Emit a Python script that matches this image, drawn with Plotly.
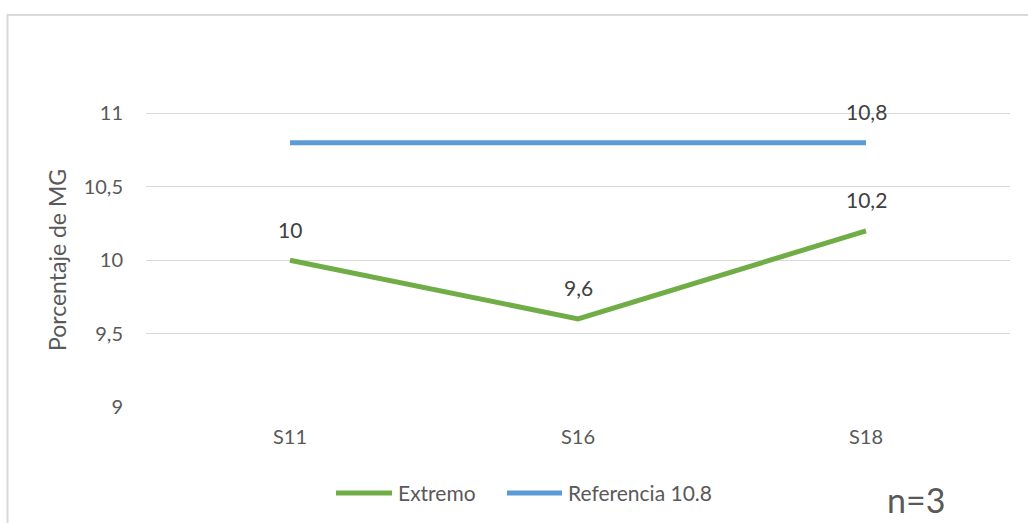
import plotly.graph_objects as go

# Data
muestras = ["S11", "S16", "S18"]
extremo = [10.0, 9.6, 10.2]
referencia = [10.8, 10.8, 10.8]
ref_label_idx = [2]  # only the last point of the reference is labelled

FONT = "Lato"
TXT = "#595959"
LBL = "#404040"
GREEN = "#70AD47"
BLUE = "#5B9BD5"
GRID = "#D9D9D9"

L, R, T, B = 146, 18, 40, 116
W, H = 1028, 523
PW, PH = W - L - R, H - T - B


def px_x(px):
    return (px - L) / PW


def px_y(py):
    return (H - B - py) / PH


def fmt(v):
    return f"{v:g}".replace(".", ",")


fig = go.Figure()
fig.add_trace(go.Scatter(x=muestras, y=referencia, mode="lines",
                         line=dict(color=BLUE, width=5), name="Referencia 10.8",
                         hoverinfo="skip"))
fig.add_trace(go.Scatter(x=muestras, y=extremo, mode="lines",
                         line=dict(color=GREEN, width=5), name="Extremo",
                         hoverinfo="skip"))

annotations = []
for x, y in zip(muestras, extremo):
    annotations.append(dict(x=x, y=y, xref="x", yref="y", text=fmt(y),
                            showarrow=False, yshift=31,
                            font=dict(family=FONT, size=21, color=LBL)))
for i in ref_label_idx:
    annotations.append(dict(x=muestras[i], y=referencia[i], xref="x", yref="y",
                            text=fmt(referencia[i]), showarrow=False, yshift=31,
                            font=dict(family=FONT, size=21, color=LBL)))

# y-axis title, centred on the gridded part of the plot
annotations.append(dict(x=px_x(57), y=px_y(260), xref="paper", yref="paper",
                        xanchor="center", yanchor="middle", textangle=-90,
                        text="Porcentaje de MG", showarrow=False,
                        font=dict(family=FONT, size=23, color=TXT)))

# legend drawn below the plot
legend_items = [("Extremo", GREEN, 336, 392, 396),
                ("Referencia 10.8", BLUE, 507, 562, 566)]
shapes = [dict(type="rect", xref="paper", yref="paper",
               x0=px_x(7.5), x1=px_x(1060), y0=px_y(560), y1=px_y(15),
               line=dict(color=GRID, width=2), fillcolor="rgba(0,0,0,0)",
               layer="below")]
for name, col, x0, x1, xt in legend_items:
    shapes.append(dict(type="line", xref="paper", yref="paper",
                       x0=px_x(x0), x1=px_x(x1), y0=px_y(493), y1=px_y(493),
                       line=dict(color=col, width=5)))
    annotations.append(dict(x=px_x(xt), y=px_y(493), xref="paper", yref="paper",
                            xanchor="left", yanchor="middle", text=name,
                            showarrow=False,
                            font=dict(family=FONT, size=21, color=TXT)))

annotations.append(dict(x=px_x(916), y=px_y(499), xref="paper", yref="paper",
                        xanchor="center", yanchor="middle",
                        text="n=3", showarrow=False,
                        font=dict(family=FONT, size=34, color=TXT)))

fig.update_layout(
    width=W, height=H,
    margin=dict(l=L, r=R, t=T, b=B),
    paper_bgcolor="white", plot_bgcolor="white",
    separators=",.",
    showlegend=False,
    font=dict(family=FONT, size=20, color=TXT),
    annotations=annotations,
    shapes=shapes,
)
fig.update_xaxes(type="category", range=[-0.5, 2.5], showgrid=False,
                 showline=False, zeroline=False, ticks="",
                 ticklabelstandoff=16,
                 tickfont=dict(family=FONT, size=20, color=TXT))
fig.update_yaxes(range=[9, 11.5], tickvals=[9, 9.5, 10, 10.5, 11],
                 showgrid=True, gridcolor=GRID, gridwidth=1.3,
                 zeroline=False, showline=False, ticks="",
                 ticklabelstandoff=22,
                 tickfont=dict(family=FONT, size=20, color=TXT))

fig.write_html("out.html")
